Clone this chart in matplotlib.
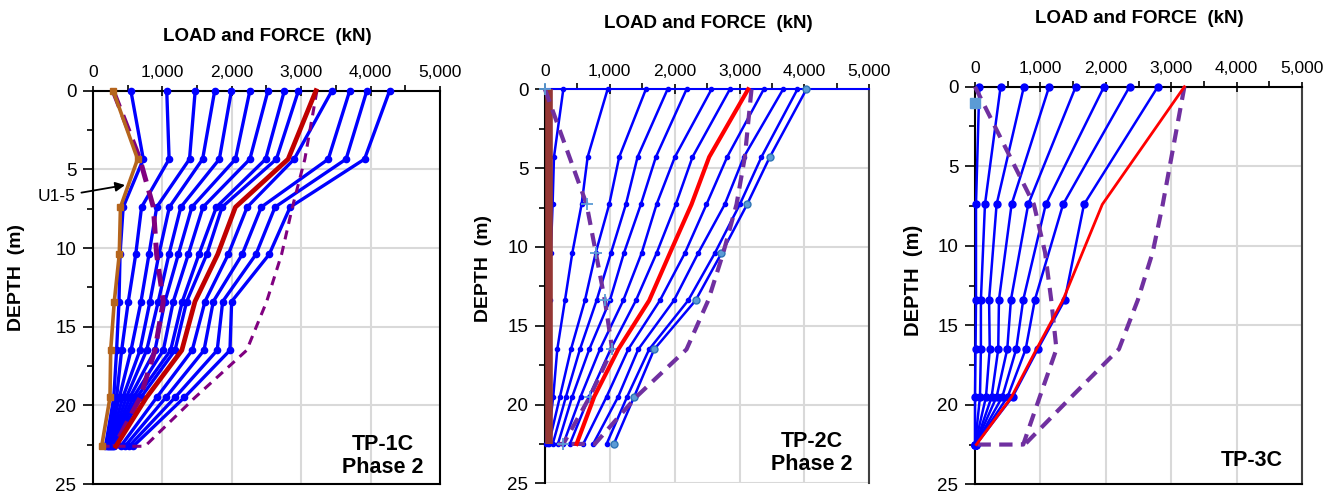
import matplotlib
matplotlib.use('Agg')
import matplotlib.pyplot as plt
from matplotlib.ticker import MultipleLocator

plt.rcParams['font.family'] = ['Liberation Sans', 'DejaVu Sans']

# ---------------- shared axis data ----------------
X_TICKS = [0, 1000, 2000, 3000, 4000, 5000]
X_TICK_LABELS = ['0', '1,000', '2,000', '3,000', '4,000', '5,000']
Y_TICKS = [0, 5, 10, 15, 20, 25]
TITLE = 'LOAD and FORCE  (kN)'
YLABEL = 'DEPTH  (m)'

# ---------------- TP-1C Phase 2 ----------------
depth1 = [0, 4.35, 7.4, 10.4, 13.4, 16.5, 19.5, 22.6]
tp1_blue = [
    [546, 725, 435, 390, 375, 340, 300, 180],
    [1063, 1097, 700, 616, 509, 413, 340, 195],
    [1473, 1391, 918, 807, 692, 548, 380, 210],
    [1754, 1580, 1101, 950, 821, 677, 430, 225],
    [1995, 1821, 1266, 1095, 941, 773, 480, 240],
    [2261, 2053, 1425, 1230, 1037, 893, 530, 255],
    [2522, 2261, 1585, 1374, 1157, 1013, 580, 270],
    [2758, 2488, 1778, 1527, 1287, 1119, 630, 285],
    [2961, 2643, 1860, 1640, 1350, 1182, 690, 300],
    [3444, 2899, 2222, 1950, 1614, 1430, 918, 400],
    [3700, 3391, 2425, 2151, 1734, 1600, 1050, 460],
    [3947, 3647, 2623, 2349, 1869, 1790, 1182, 520],
    [4275, 3913, 2841, 2540, 1998, 1974, 1316, 580],
]
tp1_red = [3213, 2812, 2053, 1797, 1470, 1280, 770, 330]
tp1_u15 = [290, 643, 396, 379, 307, 255, 245, 125]
tp1_resid = [290, 676, 870, 917, 1013, 893, 680, 310]
tp1_env_depth = [0, 4.35, 7.4, 10.4, 13.4, 16.5, 19.5, 22.6, 22.6]
tp1_env = [3227, 3053, 2874, 2718, 2503, 2215, 1470, 749, 77]

# ---------------- TP-2C Phase 2 ----------------
depth2 = [0, 4.3, 7.3, 10.4, 13.4, 16.5, 19.5, 22.5]
tp2_blue = [
    [283, 139, 118, 90, 80, 60, 60, 20],
    [966, 658, 565, 421, 308, 190, 128, 40],
    [1556, 1145, 991, 781, 616, 401, 231, 60],
    [1890, 1428, 1248, 1017, 796, 539, 324, 120],
    [2183, 1710, 1479, 1217, 1001, 683, 421, 200],
    [2568, 2003, 1721, 1490, 1207, 847, 550, 283],
    [2851, 2275, 2018, 1721, 1402, 1012, 680, 385],
    [3374, 2809, 2491, 2157, 1772, 1284, 951, 591],
    [3672, 3066, 2773, 2362, 1988, 1438, 1130, 744],
    [3893, 3338, 3005, 2619, 2208, 1607, 1268, 951],
]
tp2_circle = [4032, 3467, 3117, 2722, 2322, 1684, 1376, 1063]
tp2_red = [3133, 2532, 2260, 1926, 1607, 1130, 760, 488]
tp2_resid_depth = [0, 7.3, 10.4, 13.4, 16.5, 19.5, 22.5, 22.5]
tp2_resid = [0, 642, 786, 924, 1037, 693, 283, 130]
tp2_env_depth = [0, 4.3, 7.3, 10.4, 13.4, 16.5, 19.5, 22.5, 22.5]
tp2_env = [3185, 3082, 2954, 2748, 2517, 2183, 1412, 770, 411]
tp2_bar_depth = [0, 22.5]
tp2_bar = [62, 62]

# ---------------- TP-3C ----------------
depth3 = [0, 7.4, 13.4, 16.5, 19.5, 22.5]
tp3_blue = [
    [66, 15, 15, 8, 0, 0],
    [391, 152, 90, 90, 76, 0],
    [747, 330, 215, 225, 168, 0],
    [1133, 559, 366, 355, 254, 5],
    [1540, 813, 549, 493, 330, 5],
    [1972, 1082, 737, 630, 417, 10],
    [2363, 1346, 915, 775, 498, 10],
    [2795, 1666, 1372, 960, 574, 15],
]
tp3_red = [3201, 1946, 1346, 940, 559, 20]
tp3_resid_depth = [0, 7.4, 10.4, 13.4, 16.5, 19.5, 22.5, 22.5]
tp3_resid = [0, 900, 1070, 1165, 1245, 990, 737, 0]
tp3_env_depth = [0, 7.4, 10.4, 13.4, 16.5, 19.5, 22.5]
tp3_env = [3201, 2870, 2717, 2490, 2200, 1474, 760]
tp3_start_depth = [1.05]
tp3_start = [0]

fig = plt.figure(figsize=(13.36, 4.95), dpi=100)
ax1 = fig.add_axes([0.0696, 0.0222, 0.2597, 0.7946])
ax2 = fig.add_axes([0.4079, 0.0236, 0.2427, 0.7960])
ax3 = fig.add_axes([0.7298, 0.0216, 0.2448, 0.8032])


def style(ax, top_color='black', right_color='black', bottom=True):
    ax.set_xlim(0, 5000)
    ax.set_ylim(25, 0)
    ax.xaxis.set_ticks_position('top')
    ax.set_xticks(X_TICKS)
    ax.set_xticklabels(X_TICK_LABELS)
    ax.xaxis.set_minor_locator(MultipleLocator(500))
    ax.set_yticks(Y_TICKS)
    ax.yaxis.set_minor_locator(MultipleLocator(2.5))
    ax.tick_params(axis='x', which='major', direction='inout', length=7,
                   width=1.2, labelsize=12.5, pad=4)
    ax.tick_params(axis='x', which='minor', direction='out', length=4, width=1.2)
    ax.tick_params(axis='y', which='major', direction='out', length=7,
                   width=1.2, labelsize=13.5, pad=5)
    ax.tick_params(axis='y', which='minor', direction='out', length=4, width=1.2)
    ax.grid(True, which='major', color='#D9D9D9', lw=1.5)
    ax.set_axisbelow(True)
    for s in ax.spines.values():
        s.set_linewidth(1.5)
        s.set_color('black')
    ax.spines['top'].set_color(top_color)
    ax.spines['right'].set_color(right_color)
    ax.spines['bottom'].set_visible(bottom)


style(ax1)
style(ax2, top_color='#0000FF', right_color='#404040', bottom=False)
style(ax3, right_color='#404040')

# ---- panel 1 ----
for xs in tp1_blue:
    ax1.plot(xs, depth1, color='#0000FF', lw=2.4, marker='o', ms=4.5,
             clip_on=False, zorder=3)
ax1.plot(tp1_env, tp1_env_depth, color='#800080', lw=2.2, ls=(0, (3, 2.2)),
         clip_on=False, zorder=4)
ax1.plot(tp1_resid, depth1, color='#800080', lw=3.6, ls=(0, (3.5, 1.8)),
         clip_on=False, zorder=4)
ax1.plot(tp1_red, depth1, color='#C00000', lw=3.4, clip_on=False, zorder=5)
ax1.plot(tp1_u15, depth1, color='#B5651D', lw=2.6, marker='s', ms=4.5,
         clip_on=False, zorder=6)
ax1.annotate('U1-5', xy=(461, 6.0), xytext=(-519, 6.75), textcoords='data',
             ha='center', va='center', fontsize=12.5, annotation_clip=False,
             arrowprops=dict(arrowstyle='-|>', color='black', lw=1.3,
                             mutation_scale=14, shrinkA=2, shrinkB=0))
ax1.text(0.836, 0.071, 'TP-1C\nPhase 2', transform=ax1.transAxes, ha='center',
         va='center', fontsize=15.5, fontweight='bold', linespacing=1.15)

# ---- panel 2 ----
for xs in tp2_blue:
    ax2.plot(xs, depth2, color='#0000FF', lw=1.8, marker='o', ms=3,
             clip_on=False, zorder=3)
ax2.plot(tp2_bar, tp2_bar_depth, color='#953735', lw=5.5, solid_capstyle='butt',
         zorder=3.5)
ax2.plot(tp2_circle, depth2, color='#0000FF', lw=1.8, marker='o', ms=5,
         mfc='#5B9BD5', mec='#2E75B6', mew=1, clip_on=False, zorder=3)
ax2.plot(tp2_env, tp2_env_depth, color='#7030A0', lw=3, ls=(0, (3.2, 2)),
         clip_on=False, zorder=4)
ax2.plot(tp2_resid, tp2_resid_depth, color='#7030A0', lw=3, ls=(0, (3.2, 2)),
         marker='+', ms=8, mec='#5B9BD5', mew=1.3, markevery=slice(0, 7),
         clip_on=False, zorder=4)
ax2.plot(tp2_red, depth2, color='#FF0000', lw=3, clip_on=False, zorder=5)
ax2.text(0.822, 0.077, 'TP-2C\nPhase 2', transform=ax2.transAxes, ha='center',
         va='center', fontsize=15.5, fontweight='bold', linespacing=1.15)

# ---- panel 3 ----
for xs in tp3_blue:
    ax3.plot(xs, depth3, color='#0000FF', lw=1.8, marker='o', ms=5,
             clip_on=False, zorder=3)
ax3.plot(tp3_env, tp3_env_depth, color='#7030A0', lw=3, ls=(0, (3.2, 2)),
         clip_on=False, zorder=4)
ax3.plot(tp3_resid, tp3_resid_depth, color='#7030A0', lw=3, ls=(0, (3.2, 2)),
         clip_on=False, zorder=4)
ax3.plot(tp3_red, depth3, color='#FF0000', lw=2, clip_on=False, zorder=5)
ax3.plot(tp3_start, tp3_start_depth, ls='none', marker='s', ms=7,
         color='#5B9BD5', clip_on=False, zorder=6)
ax3.text(0.846, 0.061, 'TP-3C', transform=ax3.transAxes, ha='center',
         va='center', fontsize=15.5, fontweight='bold')

# ---- titles and y labels ----
fig.text(0.200, 0.926, TITLE, ha='center', va='center', fontsize=13.5,
         fontweight='bold')
fig.text(0.530, 0.952, TITLE, ha='center', va='center', fontsize=13.5,
         fontweight='bold')
fig.text(0.853, 0.963, TITLE, ha='center', va='center', fontsize=13.5,
         fontweight='bold')
fig.text(0.0127, 0.439, YLABEL, rotation=90, ha='center', va='center',
         fontsize=14, fontweight='bold')
fig.text(0.362, 0.457, YLABEL, rotation=90, ha='center', va='center',
         fontsize=14, fontweight='bold')
fig.text(0.684, 0.434, YLABEL, rotation=90, ha='center', va='center',
         fontsize=14.5, fontweight='bold')

fig.savefig('out.png', dpi=100)
